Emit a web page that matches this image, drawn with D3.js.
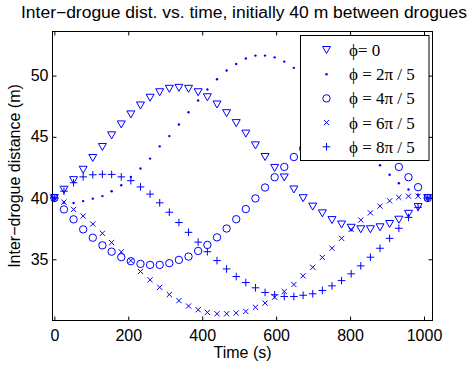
<!DOCTYPE html>
<html>
<head>
<meta charset="utf-8">
<script src="https://cdn.jsdelivr.net/npm/d3@7"></script>
<style>
  html, body { margin: 0; padding: 0; background: #fff; }
  svg { display: block; }
</style>
</head>
<body>
<div id="chart"></div>
<script>
// sample times (s)
const times = [0, 26, 52, 78, 104, 130, 155, 181, 207, 233, 259, 285, 311, 337, 363, 389, 414, 440, 466, 492,
  518, 544, 570, 596, 622, 648, 673, 699, 725, 751, 777, 803, 829, 855, 881, 907, 932, 958, 984, 1010];

// inter-drogue distance (m) per phase
const phi0 = [40, 40.68, 41.46, 42.31, 43.27, 44.17, 45.12, 46.01, 46.83, 47.56, 48.19, 48.64, 48.92, 49.0, 48.92, 48.64, 48.23, 47.64, 46.93, 46.12,
  45.26, 44.30, 43.35, 42.46, 41.68, 40.70, 39.99, 39.30, 38.75, 38.20, 37.84, 37.57, 37.45, 37.45, 37.61, 37.88, 38.23, 38.71, 39.26, 40.0];
const phi2 = [40, 39.64, 39.6, 39.75, 39.95, 40.16, 40.56, 41.05, 41.73, 42.41, 43.22, 44.22, 45.06, 46.01, 47.01, 47.97, 48.86, 49.70, 50.41, 50.95,
  51.40, 51.63, 51.63, 51.49, 51.14, 50.63, 49.95, 49.13, 48.2, 47.2, 46.2, 45.2, 44.3, 43.45, 42.68, 41.90, 41.21, 40.70, 40.28, 40.0];
const phi4 = [40, 39.07, 38.26, 37.44, 36.76, 36.14, 35.62, 35.17, 34.84, 34.62, 34.54, 34.54, 34.68, 34.95, 35.22, 35.68, 36.17, 36.79, 37.51, 38.27,
  39.10, 39.97, 40.86, 41.70, 42.54, 43.35, 44.04, 44.6, 45.0, 45.25, 45.35, 45.3, 45.1, 44.75, 44.25, 43.45, 42.54, 41.70, 40.89, 40.0];
const phi6 = [40, 39.67, 39.07, 38.53, 37.88, 37.12, 36.36, 35.60, 34.89, 34.0, 33.32, 32.71, 32.12, 31.62, 31.18, 30.88, 30.66, 30.55, 30.55, 30.61,
  30.74, 31.08, 31.42, 31.90, 32.37, 32.94, 33.65, 34.35, 35.15, 35.90, 36.71, 37.44, 38.20, 38.79, 39.34, 39.77, 40.05, 40.15, 40.15, 40.0];
const phi8 = [40, 40.56, 41.25, 41.73, 41.90, 41.94, 41.93, 41.73, 41.42, 40.91, 40.32, 39.61, 38.84, 38.0, 37.20, 36.40, 35.62, 34.89, 34.21, 33.59,
  33.10, 32.67, 32.29, 32.10, 31.96, 31.96, 32.06, 32.18, 32.45, 32.83, 33.26, 33.81, 34.46, 35.17, 35.90, 36.71, 37.53, 38.42, 39.24, 40.0];

const seriesNames = ["\u03D5= 0", "\u03D5 = 2\u03C0 / 5", "\u03D5 = 4\u03C0 / 5", "\u03D5 = 6\u03C0 / 5", "\u03D5 = 8\u03C0 / 5"];
const seriesMarkers = ["tri", "dot", "circle", "cross", "plus"];
const seriesValues = [phi0, phi2, phi4, phi6, phi8];

const xTicks = [0, 200, 400, 600, 800, 1000];
const yTicks = [35, 40, 45, 50];

const W = 469, H = 369;
const margin = { top: 31.5, right: 36.5, bottom: 48.5, left: 52.5 };
const width = W - margin.left - margin.right;
const height = H - margin.top - margin.bottom;
const BLUE = "#0000ff";
const sans = "'Liberation Sans', Arial, Helvetica, sans-serif";
const serif = "'Liberation Serif', 'Times New Roman', serif";

const svg = d3.select("#chart").append("svg")
  .attr("width", W)
  .attr("height", H);

const g = svg.append("g")
  .attr("transform", `translate(${margin.left},${margin.top})`);

const x = d3.scaleLinear().domain([-5, 1023]).range([0, width]);
const y = d3.scaleLinear().domain([30, 53.6]).range([height, 0]);

// axes, ticks inward on all four sides
const styleAxis = sel => {
  sel.select(".domain").remove();
  sel.selectAll("line").attr("stroke", "#000");
  sel.selectAll("text").style("font-family", sans).style("font-size", "16px").attr("fill", "#000");
};
g.append("g")
  .attr("transform", `translate(0,${height})`)
  .call(d3.axisBottom(x).tickValues(xTicks).tickSize(-4).tickPadding(9).tickFormat(d3.format("d")))
  .call(styleAxis);
g.append("g")
  .call(d3.axisTop(x).tickValues(xTicks).tickSize(-4).tickFormat(""))
  .call(styleAxis);
g.append("g")
  .call(d3.axisLeft(y).tickValues(yTicks).tickSize(-4).tickPadding(4).tickFormat(d3.format("d")))
  .call(styleAxis);
g.append("g")
  .attr("transform", `translate(${width},0)`)
  .call(d3.axisRight(y).tickValues(yTicks).tickSize(-4).tickFormat(""))
  .call(styleAxis);

g.append("rect")
  .attr("width", width)
  .attr("height", height)
  .attr("fill", "none")
  .attr("stroke", "#000")
  .attr("stroke-width", 1);

// marker drawing
function drawMarker(sel, type) {
  if (type === "tri") {
    sel.append("path").attr("d", "M-4,-3.5L4,-3.5L0,3.5Z")
      .attr("fill", "none").attr("stroke", BLUE).attr("stroke-width", 1);
  } else if (type === "dot") {
    sel.append("circle").attr("r", 1.2).attr("fill", BLUE);
  } else if (type === "circle") {
    sel.append("circle").attr("r", 3.7)
      .attr("fill", "none").attr("stroke", BLUE).attr("stroke-width", 1);
  } else if (type === "cross") {
    sel.append("path").attr("d", "M-2.6,-2.6L2.6,2.6M-2.6,2.6L2.6,-2.6")
      .attr("stroke", BLUE).attr("stroke-width", 1);
  } else if (type === "plus") {
    sel.append("path").attr("d", "M-3.8,0L3.8,0M0,-3.8L0,3.8")
      .attr("stroke", BLUE).attr("stroke-width", 1);
  }
}

const plot = g.append("g");
seriesValues.forEach((vals, s) => {
  const pts = plot.append("g").selectAll("g")
    .data(vals.map((v, i) => [times[i], v]))
    .join("g")
      .attr("transform", d => `translate(${x(d[0])},${y(d[1])})`);
  pts.each(function () { drawMarker(d3.select(this), seriesMarkers[s]); });
});

// legend
const lg = g.append("g").attr("transform", `translate(${300.5 - margin.left},${35.5 - margin.top})`);
lg.append("rect")
  .attr("width", 128.5)
  .attr("height", 125)
  .attr("fill", "#fff")
  .attr("stroke", "#000")
  .attr("stroke-width", 1);
seriesNames.forEach((name, i) => {
  const row = lg.append("g").attr("transform", `translate(0,${14.5 + i * 24.2})`);
  drawMarker(row.append("g").attr("transform", "translate(26,0)"), seriesMarkers[i]);
  row.append("text")
    .attr("x", 48.5)
    .attr("dy", "0.35em")
    .style("font-family", serif)
    .style("font-size", "17px")
    .text(name);
});

// title and labels
svg.append("text")
  .attr("x", 21)
  .attr("y", 17.5)
  .attr("textLength", 446)
  .attr("lengthAdjust", "spacingAndGlyphs")
  .style("font-family", sans)
  .style("font-size", "16px")
  .text("Inter\u2212drogue dist. vs. time, initially 40 m between drogues");

svg.append("text")
  .attr("x", margin.left + width / 2)
  .attr("y", 358)
  .attr("text-anchor", "middle")
  .style("font-family", sans)
  .style("font-size", "16px")
  .text("Time (s)");

svg.append("text")
  .attr("transform", `translate(19.5,${margin.top + height / 2}) rotate(-90)`)
  .attr("text-anchor", "middle")
  .style("font-family", sans)
  .style("font-size", "16px")
  .text("Inter\u2212drogue distance (m)");
</script>
</body>
</html>
